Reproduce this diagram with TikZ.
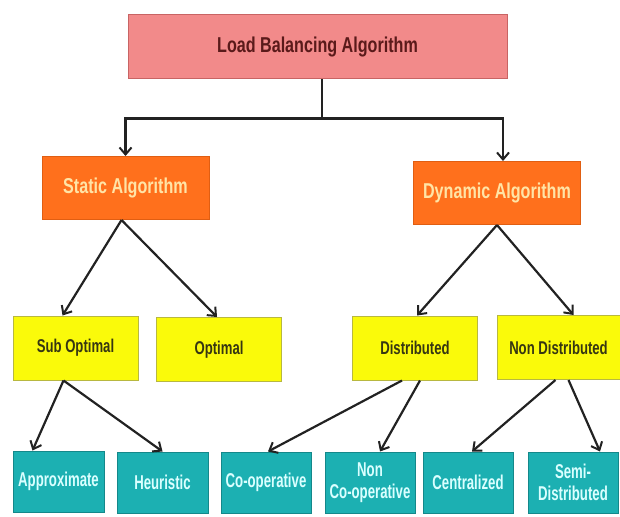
\documentclass[tikz,border=0pt]{standalone}
\usepackage{fontspec}
\setmainfont{Liberation Sans}
\newfontfamily\topfont{Liberation Sans}[FakeStretch=0.75]
\newfontfamily\midfont{Liberation Sans}[FakeStretch=0.71]
\newfontfamily\lowfont{Liberation Sans}[FakeStretch=0.66]
\definecolor{lbpink}{HTML}{F28A8A}
\definecolor{lbpinkdark}{HTML}{C86464}
\definecolor{lbmaroon}{HTML}{5A1A1A}
\definecolor{lborange}{HTML}{FF701C}
\definecolor{lborangedark}{HTML}{E05E12}
\definecolor{lbcream}{HTML}{FFE4A6}
\definecolor{lbyellow}{HTML}{FAFA0A}
\definecolor{lbyellowdark}{HTML}{B8B840}
\definecolor{lbolive}{HTML}{363612}
\definecolor{lbteal}{HTML}{1CB0B2}
\definecolor{lbtealdark}{HTML}{14888A}
\definecolor{lbcyan}{HTML}{DAFFFF}
\definecolor{lbline}{HTML}{222222}
\usetikzlibrary{arrows.meta, positioning, calc}

\begin{document}
\begin{tikzpicture}[x=1pt, y=-1pt,
        rootbox/.style={rectangle, draw=lbpinkdark, fill=lbpink, line width=1pt,
                    minimum width=379pt, minimum height=64pt, inner sep=0pt,
                    text=lbmaroon, font=\topfont\bfseries\fontsize{21.5}{24}\selectfont},
        algbox/.style={rectangle, draw=lborangedark, fill=lborange, line width=1pt,
                    minimum width=167pt, minimum height=63pt, inner sep=0pt,
                    text=lbcream, font=\topfont\bfseries\fontsize{21.5}{24}\selectfont},
        kindbox/.style={rectangle, draw=lbyellowdark, fill=lbyellow, line width=1pt,
                    minimum width=125pt, minimum height=64pt, inner sep=0pt,
                    text=lbolive, font=\midfont\bfseries\fontsize{18.5}{22}\selectfont},
        leafbox/.style={rectangle, draw=lbtealdark, fill=lbteal, line width=1pt,
                    minimum width=91pt, minimum height=61pt, inner sep=0pt,
                    align=center, text=lbcyan,
                    font=\lowfont\bfseries\fontsize{20}{22}\selectfont},
        arr/.style={-{Straight Barb[length=7pt, width=12pt, line width=2pt]},
                    line width=2.2pt, draw=lbline}
      ]
      \useasboundingbox (0,0) rectangle (620,516);

      % levels of the tree
      \node[rootbox] (load) at (317.5,47) {Load Balancing Algorithm};
      \node[algbox]  (static)  at (125.5,188) {Static Algorithm};
      \node[algbox]  (dynamic) at (497,193)   {Dynamic Algorithm};

      \node[kindbox] (subopt)   at (75.5,348)  {Sub Optimal};
      \node[kindbox] (optimal)  at (219,349.5) {Optimal};
      \node[kindbox] (distr)    at (415,348)   {Distributed};
      \node[kindbox, minimum width=123pt] (nondistr) at (558.5,347.5) {Non Distributed};

      \node[leafbox] (approx)  at (58.5,481.5) {Approximate};
      \node[leafbox] (heur)    at (162.5,482.5) {Heuristic};
      \node[leafbox, minimum width=90pt] (coop)    at (266,482.5) {Co-operative};
      \node[leafbox, minimum width=90pt] (noncoop) at (370,482.5) {Non\\Co-operative};
      \node[leafbox, minimum width=90pt] (central) at (468,482.5) {Centralized};
      \node[leafbox, minimum width=90pt] (semi)    at (573,482.5) {Semi-\\Distributed};

      % connectors
      \draw[line width=2.2pt, draw=lbline] ([xshift=4.5pt]load.south) -- ++(0,39)
        coordinate (split);
      \draw[arr] (split) -| (static.north);
      \draw[arr] (split) -| ([xshift=6pt]dynamic.north);

      \draw[arr] ([xshift=-4pt]static.south) -- ([xshift=-13pt]subopt.north);
      \draw[arr] ([xshift=-4pt]static.south) -- ([xshift=-2pt]optimal.north);
      \draw[arr] (dynamic.south) -- ([xshift=2pt]distr.north);
      \draw[arr] (dynamic.south) -- ([xshift=15pt]nondistr.north);

      \draw[arr] ([xshift=-12pt]subopt.south) -- ([xshift=-26pt]approx.north);
      \draw[arr] ([xshift=-12pt]subopt.south) -- (heur.north);
      \draw[arr] ([xshift=-13pt]distr.south) -- ([xshift=2pt]coop.north);
      \draw[arr] ([xshift=5pt]distr.south) -- ([xshift=10pt]noncoop.north);
      \draw[arr] ([xshift=-3pt]nondistr.south) -- ([xshift=4pt]central.north);
      \draw[arr] ([xshift=10pt]nondistr.south) -- ([xshift=27pt]semi.north);
    \end{tikzpicture}
\end{document}
